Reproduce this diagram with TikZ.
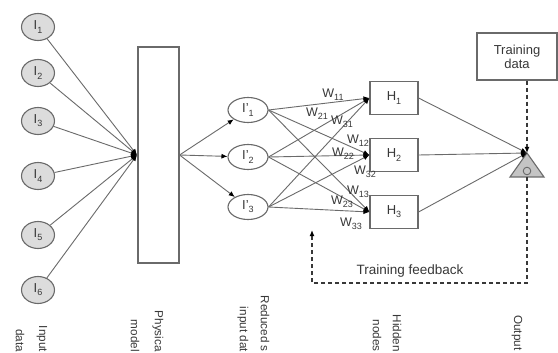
\documentclass[tikz,border=0pt]{standalone}
\usepackage{fontspec}
\setmainfont{Liberation Sans}
\usetikzlibrary{arrows.meta,shapes.geometric}
\definecolor{lgrey}{HTML}{6A6A6A}
\definecolor{cfill}{HTML}{DCDCDC}
\definecolor{tfill}{HTML}{C4C4C4}
\definecolor{txt}{HTML}{383838}
\newcommand\mysub[1]{\raisebox{-0.45ex}{\fontsize{9}{9}\selectfont #1}}
\begin{document}
\begin{tikzpicture}[x=1pt,y=-1pt,
  every node/.style={font=\fontsize{13}{15}\selectfont, text=txt},
  ln/.style={draw=lgrey, line width=0.9pt},
  arr/.style={ln, -{Latex[length=6pt,width=5pt,color=black]}},
  inp/.style={ellipse, draw=lgrey, fill=cfill, line width=1.1pt, minimum width=33pt, minimum height=27pt, inner sep=0pt},
  rdc/.style={ellipse, draw=lgrey, fill=white, line width=1.1pt, minimum width=40pt, minimum height=25pt, inner sep=0pt},
  hid/.style={rectangle, draw=lgrey, line width=1.1pt, minimum width=48pt, minimum height=33pt, inner sep=0pt},
  wlab/.style={inner sep=0pt, font=\fontsize{12.5}{14}\selectfont},
  labstart/.style={rotate=-90, anchor=west, inner sep=0pt, font=\fontsize{11.7}{13}\selectfont},
  labfinish/.style={rotate=-90, anchor=east, inner sep=0pt, font=\fontsize{11.7}{13}\selectfont},
  fb/.style={draw=txt, line width=1.2pt, dash pattern=on 4pt off 3pt},
]
\useasboundingbox (0,0) rectangle (558,353);
\clip (0,0) rectangle (558,353);
\fill[white] (0,0) rectangle (558,353);

% input nodes
\node[inp] (i1) at (38,27) {I\mysub{1}};
\node[inp] (i2) at (38,73) {I\mysub{2}};
\node[inp] (i3) at (38,121) {I\mysub{3}};
\node[inp] (i4) at (38,176) {I\mysub{4}};
\node[inp] (i5) at (38,235) {I\mysub{5}};
\node[inp] (i6) at (38,290) {I\mysub{6}};
\coordinate (cv) at (137,155);
\foreach \n in {i1,i2,i3,i4,i5,i6} \draw[arr] (\n) -- (cv);

% physical model
\node[rectangle, draw=lgrey, line width=1.1pt, minimum width=41pt, minimum height=216pt, inner sep=0pt] (pm) at (158.5,155) {};

% reduced inputs
\node[rdc] (r1) at (248,110) {I'\mysub{1}};
\node[rdc] (r2) at (248,157) {I'\mysub{2}};
\node[rdc] (r3) at (248,207) {I'\mysub{3}};
\foreach \n in {r1,r2,r3} \draw[arr] (pm.east) -- (\n);

% hidden nodes
\node[hid] (h1) at (394,98) {H\mysub{1}};
\node[hid] (h2) at (394,155) {H\mysub{2}};
\node[hid] (h3) at (394,212) {H\mysub{3}};
\foreach \r in {r1,r2,r3}
  \foreach \h in {h1,h2,h3}
    \draw[arr] (\r.east) -- (\h.west);

% weights
\node[wlab] at (333,95) {W\mysub{11}};
\node[wlab] at (317,114) {W\mysub{21}};
\node[wlab] at (342,122) {W\mysub{31}};
\node[wlab] at (358,141) {W\mysub{12}};
\node[wlab] at (343,154) {W\mysub{22}};
\node[wlab] at (365,172) {W\mysub{32}};
\node[wlab] at (358,192) {W\mysub{13}};
\node[wlab] at (342,202) {W\mysub{23}};
\node[wlab] at (351,224) {W\mysub{33}};

% output
\coordinate (apex) at (527,153);
\draw[draw=lgrey, fill=tfill, line width=1.1pt] (apex) -- (544,177) -- (510,177) -- cycle;
\draw[draw=lgrey, line width=0.9pt] (527,171) circle (3.8pt);
\coordinate (obot) at (527,177);
\foreach \h in {h1,h2,h3} \draw[arr] (\h.east) -- (apex);

% training data
\node[rectangle, draw=lgrey, line width=1.1pt, minimum width=80pt, minimum height=47pt, align=center, inner sep=0pt, font=\fontsize{13}{14}\selectfont] (td) at (517,56.5) {Training\\data};
\draw[fb, -{Latex[length=6pt,width=5pt,color=black]}] (td.south -| apex) -- (apex);

% feedback
\coordinate (fbend) at (312,230);
\draw[fb, -{Latex[length=6pt,width=5pt,color=black]}] (obot) -- (527,283) -- (312,283) -- (fbend);
\node[font=\fontsize{13.5}{15}\selectfont] (fbl) at (410,271) {Training feedback};

% bottom labels (as far as they show in the picture)
\node[labfinish] (l1a) at (42,352) {Input};
\node[labstart]  (l1b) at (20,329) {data};
\node[labfinish] (l2a) at (158,352) {Physica};
\node[labfinish] (l2b) at (135,352) {model};
\node[labfinish] (l3a) at (265,352) {Reduced s};
\node[labfinish] (l3b) at (243,352) {input dat};
\node[labfinish] (l4a) at (397,352) {Hidden};
\node[labfinish] (l4b) at (377,352) {nodes};
\node[labstart]  (l5)  at (517,315) {Output};
\end{tikzpicture}
\end{document}
